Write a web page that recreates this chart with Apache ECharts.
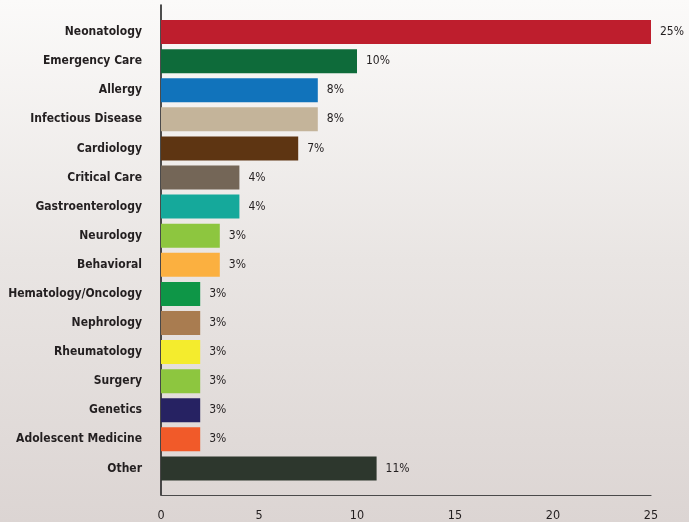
<!DOCTYPE html>
<html><head><meta charset="utf-8">
<script src="https://cdn.jsdelivr.net/npm/echarts@6/dist/echarts.min.js"></script>
<style>html,body{margin:0;padding:0;}#c{width:689px;height:522px;background:linear-gradient(to bottom,#fbfaf9 0%,#e9e5e3 50%,#dcd5d3 100%);}</style>
</head><body><div id="c"></div>
<script>
var categories = ["Neonatology","Emergency Care","Allergy","Infectious Disease","Cardiology","Critical Care","Gastroenterology","Neurology","Behavioral","Hematology/Oncology","Nephrology","Rheumatology","Surgery","Genetics","Adolescent Medicine","Other"];
var values = [25,10,8,8,7,4,4,3,3,2,2,2,2,2,2,11];
var valueLabels = ["25%","10%","8%","8%","7%","4%","4%","3%","3%","3%","3%","3%","3%","3%","3%","11%"];
var colors = ["#be1e2d","#0e6b3a","#1173bb","#c4b49a","#5e3512","#746657","#15a99b","#8dc63f","#fbb040","#0e9647","#a97c50","#f4ec2d","#8dc63f","#262262","#f15a29","#2d372d"];
var xTicks = [0,5,10,15,20,25];

var FONT = '"DejaVu Sans Condensed","Liberation Sans",sans-serif';
var chart = echarts.init(document.getElementById('c'));
chart.setOption({
  animation:false,
  grid:[
    {left:161,right:38,top:17.5,bottom:39,outerBoundsMode:'none',containLabel:false},
    {left:161,right:38,top:5,bottom:27,outerBoundsMode:'none',containLabel:false}
  ],
  xAxis:[
    {gridIndex:0,type:'value',min:xTicks[0],max:xTicks[xTicks.length-1],interval:5,show:false},
    {gridIndex:1,type:'value',min:xTicks[0],max:xTicks[xTicks.length-1],interval:5,
     axisLine:{show:true,lineStyle:{color:'#4a4a4a',width:1.2}},axisTick:{show:false},splitLine:{show:false},
     axisLabel:{color:'#231f20',fontSize:12.5,fontFamily:FONT,margin:14}}
  ],
  yAxis:[
    {gridIndex:0,type:'category',data:categories,inverse:true,
     axisLine:{show:false},axisTick:{show:false},
     axisLabel:{color:'#231f20',fontSize:12,fontWeight:'bold',fontFamily:FONT,margin:19}},
    {gridIndex:1,type:'value',min:0,max:1,
     axisLine:{show:true,lineStyle:{color:'#222',width:1.6}},axisTick:{show:false},axisLabel:{show:false},splitLine:{show:false}}
  ],
  series:[{
    type:'bar',xAxisIndex:0,yAxisIndex:0,barWidth:24,
    data:values.map(function(v,i){return {value:v,itemStyle:{color:colors[i]}};}),
    label:{show:true,position:'right',distance:9,color:'#231f20',fontSize:12,fontFamily:FONT,
      formatter:function(p){return valueLabels[p.dataIndex];}}
  }]
});
</script></body></html>
